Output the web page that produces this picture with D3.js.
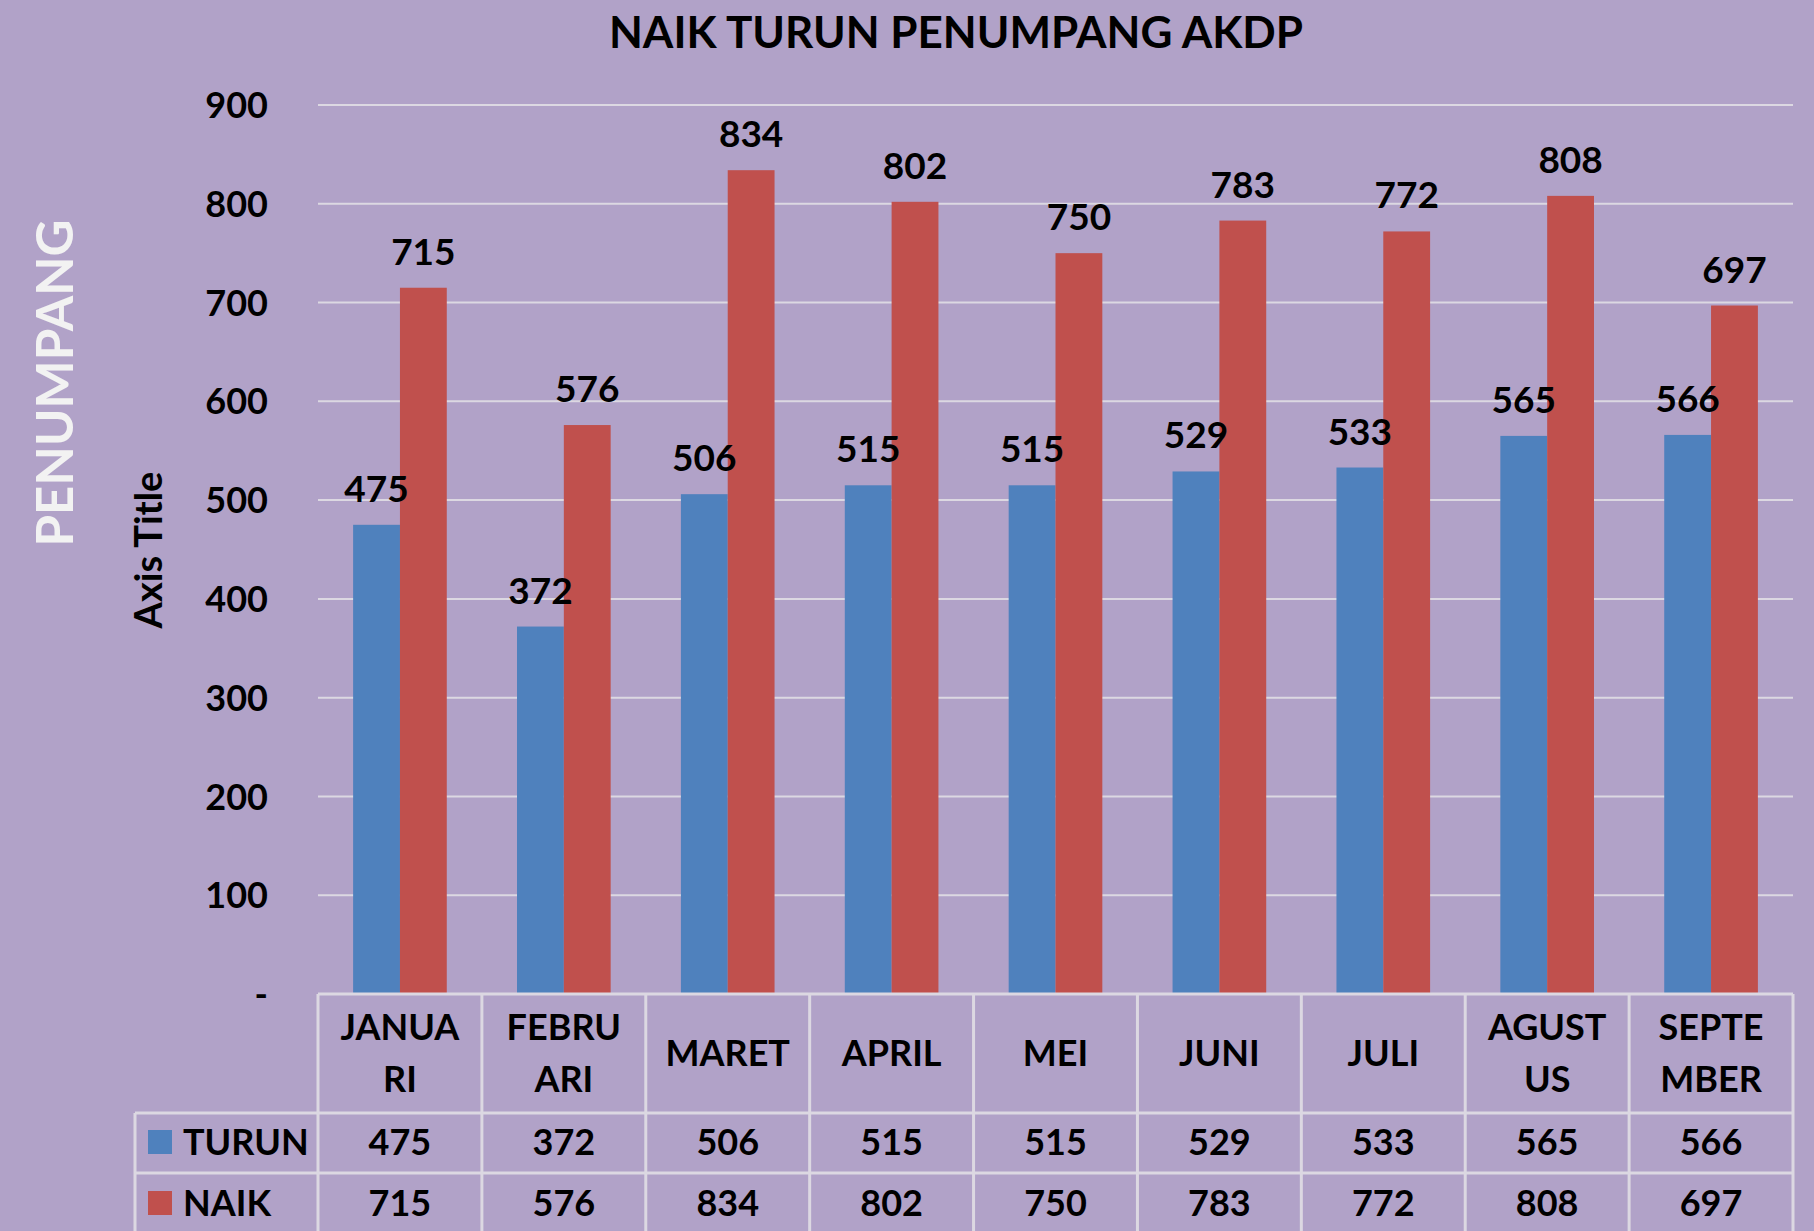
<!DOCTYPE html>
<html><head><meta charset="utf-8">
<script src="https://cdn.jsdelivr.net/npm/d3@7"></script>
<style>html,body{margin:0;padding:0;background:#b1a2c8;}svg{display:block;}text{font-family:Lato,"Open Sans",sans-serif;font-weight:bold;}</style>
</head><body>
<svg id="c" width="1814" height="1231"></svg>
<script>
const categories = ["JANUARI","FEBRUARI","MARET","APRIL","MEI","JUNI","JULI","AGUSTUS","SEPTEMBER"];
const categoryLines = [["JANUA","RI"],["FEBRU","ARI"],["MARET"],["APRIL"],["MEI"],["JUNI"],["JULI"],["AGUST","US"],["SEPTE","MBER"]];
const seriesNames = ["TURUN","NAIK"];
const turun = [475,372,506,515,515,529,533,565,566];
const naik = [715,576,834,802,750,783,772,808,697];
const tickValues = [0,100,200,300,400,500,600,700,800,900];
const tickLabels = ["-","100","200","300","400","500","600","700","800","900"];
const colors = ["#4f81bd","#c0504d"];
const chartTitle = "NAIK TURUN PENUMPANG AKDP";

(function(){
const seriesValues = [turun, naik];
const svg = d3.select("#c");
const W = 1814, H = 1231;
svg.append("rect").attr("width",W).attr("height",H).attr("fill","#b1a2c8");

const pL = 318, pR = 1793, pT = 105, pB = 994;
const x = d3.scaleBand().domain(categories).range([pL,pR]).paddingInner(0).paddingOuter(0);
const xs = d3.scaleBand().domain(seriesNames).range([0,x.bandwidth()]).paddingInner(0).paddingOuter(0.75);
const y = d3.scaleLinear().domain([0,900]).range([pB,pT]);

svg.append("g").selectAll("line").data(tickValues.filter(v=>v>0)).join("line")
  .attr("x1",pL).attr("x2",pR).attr("y1",d=>y(d)).attr("y2",d=>y(d))
  .attr("stroke","#dcd8e2").attr("stroke-width",2);

const yAxis = d3.axisLeft(y).tickValues(tickValues).tickFormat((d,i)=>tickLabels[i]).tickSize(0).tickPadding(0);
const ga = svg.append("g").attr("transform",`translate(268,0)`).call(yAxis);
ga.select(".domain").remove();
ga.selectAll("text").attr("font-size",36).attr("fill","#000").attr("font-family","Lato,sans-serif").attr("font-weight","bold").attr("dy","0.35em");

const groups = svg.append("g").selectAll("g").data(categories).join("g")
  .attr("transform",d=>`translate(${x(d)},0)`);
seriesNames.forEach((s,si)=>{
  groups.append("rect")
    .attr("x",xs(s)).attr("width",xs.bandwidth())
    .attr("y",(d,i)=>y(seriesValues[si][i]))
    .attr("height",(d,i)=>y(0)-y(seriesValues[si][i]))
    .attr("fill",colors[si]);
});
seriesNames.forEach((s,si)=>{
  groups.append("text")
    .attr("x",xs(s)+xs.bandwidth()/2)
    .attr("y",(d,i)=>y(seriesValues[si][i])-23)
    .attr("text-anchor","middle").attr("font-size",37).attr("fill","#000")
    .text((d,i)=>seriesValues[si][i]);
});

const tableLeft = 135, rowTop = [994,1113,1173,1233];
const tl = svg.append("g").attr("stroke","#dcd8e2").attr("stroke-width",3);
tl.append("line").attr("x1",pL).attr("x2",pR).attr("y1",rowTop[0]).attr("y2",rowTop[0]);
tl.append("line").attr("x1",tableLeft).attr("x2",pR).attr("y1",rowTop[1]).attr("y2",rowTop[1]);
tl.append("line").attr("x1",tableLeft).attr("x2",pR).attr("y1",rowTop[2]).attr("y2",rowTop[2]);
tl.append("line").attr("x1",tableLeft).attr("x2",tableLeft).attr("y1",rowTop[1]).attr("y2",H);
const colEdges = categories.map(c=>x(c)).concat([pR]);
tl.selectAll("line.v").data(colEdges).join("line").attr("class","v")
  .attr("x1",d=>d).attr("x2",d=>d).attr("y1",rowTop[0]).attr("y2",H);

categories.forEach((c,i)=>{
  const lines = categoryLines[i];
  const cx = x(c)+x.bandwidth()/2;
  const baselines = lines.length===2 ? [1040,1092] : [1066];
  lines.forEach((ln,j)=>{
    svg.append("text").attr("x",cx).attr("y",baselines[j]).attr("text-anchor","middle")
      .attr("font-size",36).attr("fill","#000").text(ln);
  });
});
const rowBase = [1155,1216];
seriesNames.forEach((s,si)=>{
  svg.append("rect").attr("x",148).attr("y",rowBase[si]-25).attr("width",24).attr("height",24).attr("fill",colors[si]);
  svg.append("text").attr("x",183).attr("y",rowBase[si]).attr("font-size",36).attr("fill","#000").text(s);
  categories.forEach((c,i)=>{
    svg.append("text").attr("x",x(c)+x.bandwidth()/2).attr("y",rowBase[si]).attr("text-anchor","middle")
      .attr("font-size",36).attr("fill","#000").text(seriesValues[si][i]);
  });
});

svg.append("text").attr("x",956).attr("y",48).attr("text-anchor","middle").attr("font-size",44).attr("fill","#000").text(chartTitle);
svg.append("text").attr("transform","translate(162,550) rotate(-90)").attr("text-anchor","middle").attr("font-size",38).attr("fill","#000").text("Axis Title");
svg.append("text").attr("transform","translate(73,383) rotate(-90)").attr("text-anchor","middle").attr("font-size",51).attr("fill","#f2f2f2").text("PENUMPANG");
})();
</script>
</body></html>
